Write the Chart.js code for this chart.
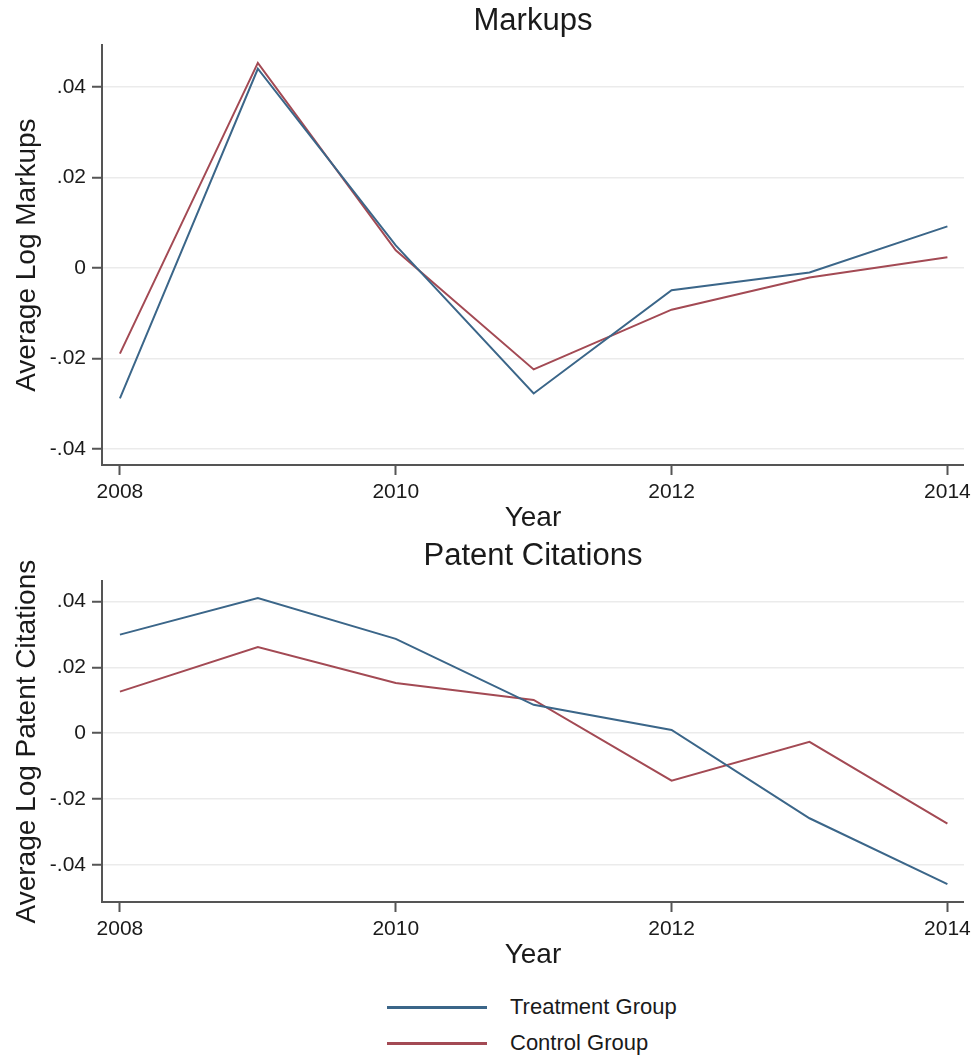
<!DOCTYPE html>
<html>
<head>
<meta charset="utf-8">
<script src="https://cdn.jsdelivr.net/npm/chart.js@4/dist/chart.umd.min.js"></script>
<style>
  body { margin: 0; background: #fff; width: 976px; height: 1055px; position: relative; overflow: hidden;
         font-family: 'Liberation Sans', Arial, sans-serif; }
  canvas { position: absolute; left: 0; }
  #markups { top: 0; }
  #citations { top: 530px; }
  .legend-row { position: absolute; left: 387px; height: 24px; display: flex; align-items: center; }
  .legend-line { width: 100px; height: 3px; }
  .legend-text { margin-left: 23px; font-size: 22px; color: #1a1a1a; }
</style>
</head>
<body>
<canvas id="markups" width="976" height="545"></canvas>
<canvas id="citations" width="976" height="460"></canvas>
<div id="legend"></div>
<script>
// data
var years = [2008, 2009, 2010, 2011, 2012, 2013, 2014];
var xTicks = [2008, 2010, 2012, 2014];
var yTicks = [-0.04, -0.02, 0, 0.02, 0.04];

var markupsTreatment = [-0.0288, 0.0440, 0.0050, -0.0277, -0.0049, -0.0010, 0.0092];
var markupsControl   = [-0.0189, 0.0453, 0.0039, -0.0224, -0.0092, -0.0021, 0.0024];

var citationsTreatment = [0.0299, 0.0410, 0.0286, 0.0086, 0.0010, -0.0258, -0.0458];
var citationsControl   = [0.0126, 0.0261, 0.0152, 0.0101, -0.0144, -0.0026, -0.0274];

var seriesNames = ['Treatment Group', 'Control Group'];
var seriesColors = ['#3b6689', '#a34a54'];

var FONT = "'Liberation Sans', Arial, sans-serif";
var TEXT = '#1a1a1a';
var AXIS = '#555';

function points(vals) {
    return years.map(function (y, i) { return { x: y, y: vals[i] }; });
}

function fmt(v) {
    if (Math.abs(v) < 1e-9) return '0';
    return (v < 0 ? '-' : '') + Math.abs(v).toFixed(2).slice(1);
}

function makeChart(id, cfg) {
    var ctx = document.getElementById(id).getContext('2d');
    return new Chart(ctx, {
        type: 'line',
        data: {
            datasets: [cfg.treatment, cfg.control].map(function (vals, i) {
                return {
                    label: seriesNames[i],
                    data: points(vals),
                    borderColor: seriesColors[i],
                    borderWidth: 2,
                    pointRadius: 0,
                    tension: 0,
                    fill: false
                };
            })
        },
        options: {
            responsive: false,
            animation: false,
            layout: { padding: { right: 11, left: 0, top: 0, bottom: 0 } },
            plugins: {
                legend: { display: false },
                tooltip: { enabled: false },
                title: {
                    display: true,
                    fullSize: false, // centre over the plot area, not the canvas
                    text: cfg.title,
                    color: TEXT,
                    font: { family: FONT, size: 31, weight: 'normal' },
                    padding: cfg.titlePad
                }
            },
            scales: {
                x: {
                    type: 'linear',
                    min: 2007.87,
                    max: 2014.12,
                    afterBuildTicks: function (s) { s.ticks = xTicks.map(function (v) { return { value: v }; }); },
                    afterFit: function (s) { s.height = cfg.xHeight; },
                    grid: { drawOnChartArea: false, drawTicks: true, tickLength: 10, tickColor: AXIS, tickWidth: 2 },
                    border: { display: true, color: AXIS, width: 2 },
                    ticks: {
                        color: TEXT, padding: 5,
                        font: { family: FONT, size: 21 },
                        maxRotation: 0,
                        callback: function (v) { return String(v); }
                    },
                    title: {
                        display: true, text: 'Year', color: TEXT,
                        font: { family: FONT, size: 28 },
                        padding: { top: 0, bottom: cfg.yearPad }
                    }
                },
                y: {
                    min: cfg.yMin,
                    max: cfg.yMax,
                    afterBuildTicks: function (s) { s.ticks = yTicks.map(function (v) { return { value: v }; }); },
                    afterFit: function (s) { s.width = 102; },
                    grid: { color: '#ebebeb', lineWidth: 1.5, drawTicks: true, tickLength: 10, tickColor: AXIS, tickWidth: 2 },
                    border: { display: true, color: AXIS, width: 2 },
                    ticks: {
                        color: TEXT, padding: 6,
                        font: { family: FONT, size: 21 },
                        callback: function (v) { return fmt(v); }
                    },
                    title: {
                        display: true, text: cfg.yTitle, color: TEXT,
                        font: { family: FONT, size: 28 },
                        padding: { top: 10, bottom: 0 }
                    }
                }
            }
        }
    });
}

makeChart('markups', {
    title: 'Markups',
    yTitle: 'Average Log Markups',
    treatment: markupsTreatment,
    control: markupsControl,
    yMin: -0.0435, yMax: 0.0492,
    titlePad: { top: 3, bottom: 5 },
    xHeight: 80,
    yearPad: 10
});

makeChart('citations', {
    title: 'Patent Citations',
    yTitle: 'Average Log Patent Citations',
    treatment: citationsTreatment,
    control: citationsControl,
    yMin: -0.0512, yMax: 0.0461,
    titlePad: { top: 8, bottom: 6 },
    xHeight: 88,
    yearPad: 18
});

// shared legend under both panels
var legend = document.getElementById('legend');
seriesNames.forEach(function (name, i) {
    var row = document.createElement('div');
    row.className = 'legend-row';
    row.style.top = (995 + i * 36) + 'px';
    row.innerHTML = '<div class="legend-line" style="background:' + seriesColors[i] + '"></div>' +
                    '<div class="legend-text">' + name + '</div>';
    legend.appendChild(row);
});
</script>
</body>
</html>
